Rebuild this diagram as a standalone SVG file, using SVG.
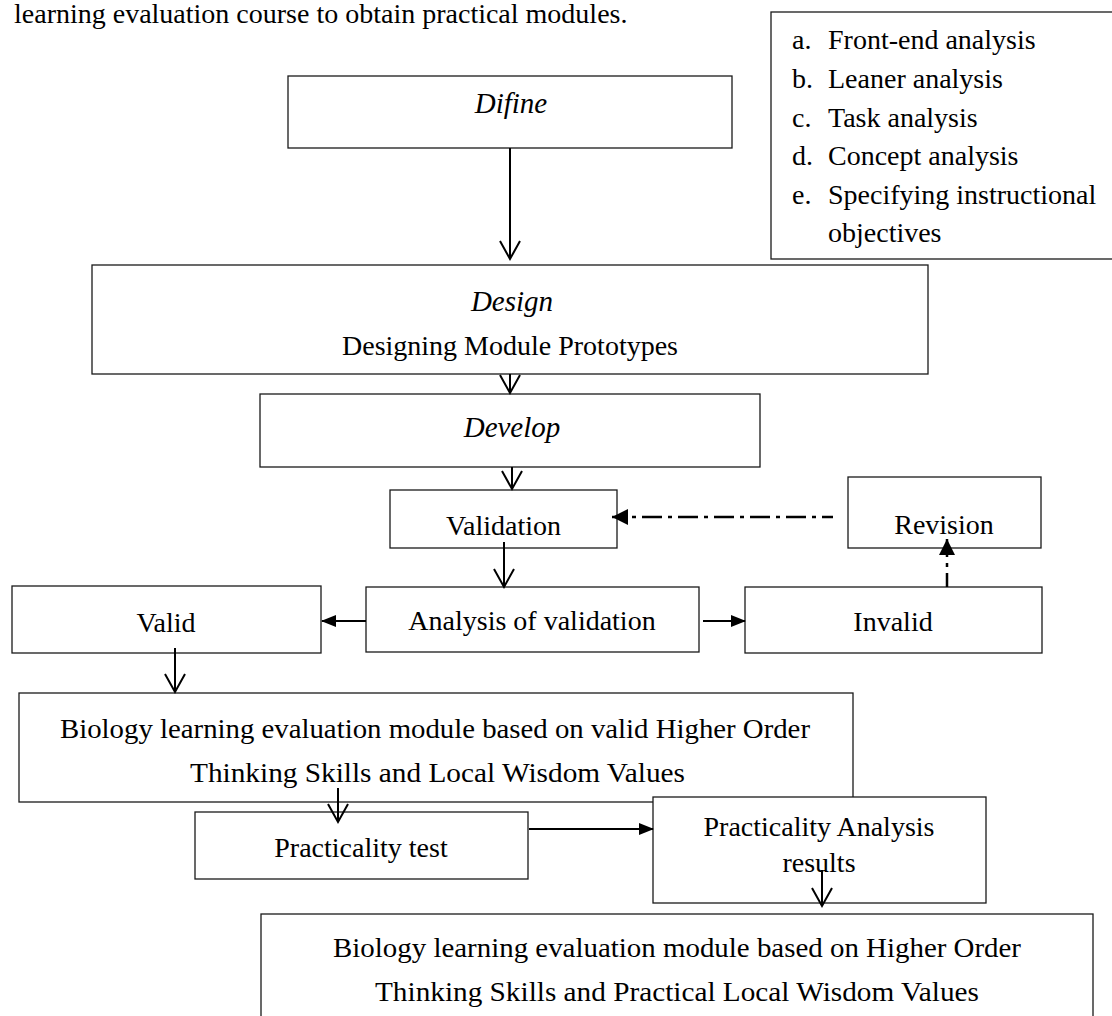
<svg xmlns="http://www.w3.org/2000/svg" width="1112" height="1016" viewBox="0 0 1112 1016">
<style>
.box{fill:#fff;stroke:#1a1a1a;stroke-width:1.3}
.t{font-family:"Liberation Serif","Times New Roman",serif;font-size:28px;fill:#000}
.m{text-anchor:middle}
.i{font-style:italic;font-size:29px}
.c{fill:none;stroke:#000;stroke-width:2}
.dd{stroke-width:2.5;stroke-dasharray:20 6 4 6}
</style>
<defs>
<marker id="open" markerUnits="userSpaceOnUse" viewBox="-2 -2 24 26" refX="18" refY="10" markerWidth="24" markerHeight="26" orient="auto">
<path d="M0,0 L18,10 L0,20" fill="none" stroke="#000" stroke-width="2"/>
</marker>
<marker id="fill" markerUnits="userSpaceOnUse" viewBox="0 0 15 12" refX="14" refY="6" markerWidth="15" markerHeight="12" orient="auto">
<path d="M0,0 L15,6 L0,12 Z" fill="#000"/>
</marker>
<marker id="fillbig" markerUnits="userSpaceOnUse" viewBox="0 0 16 16" refX="16" refY="8" markerWidth="16" markerHeight="16" orient="auto">
<path d="M0,0 L16,8 L0,16 Z" fill="#000"/>
</marker>
</defs>
<rect width="1112" height="1016" fill="#fff"/>
<text class="t" x="14" y="23">learning evaluation course to obtain practical modules.</text>
<g id="list">
<rect class="box" x="771" y="12" width="360" height="247"/>
<text class="t" x="792" y="49">a.</text><text class="t" x="828" y="49">Front-end analysis</text>
<text class="t" x="792" y="88">b.</text><text class="t" x="828" y="88">Leaner analysis</text>
<text class="t" x="792" y="127">c.</text><text class="t" x="828" y="127">Task analysis</text>
<text class="t" x="792" y="165">d.</text><text class="t" x="828" y="165">Concept analysis</text>
<text class="t" x="792" y="204">e.</text><text class="t" x="828" y="204">Specifying instructional</text>
<text class="t" x="828" y="242">objectives</text>
</g>
<g id="define">
<rect class="box" x="288" y="76" width="444" height="72"/>
<text class="t m i" x="511" y="113">Difine</text>
</g>
<g id="design">
<rect class="box" x="92" y="265" width="836" height="109"/>
<text class="t m i" x="512" y="311">Design</text>
<text class="t m" x="510" y="355">Designing Module Prototypes</text>
</g>
<g id="develop">
<rect class="box" x="260" y="394" width="500" height="73"/>
<text class="t m i" x="512" y="437">Develop</text>
</g>
<g id="validation">
<rect class="box" x="390" y="490" width="227" height="58"/>
<text class="t m" x="503.5" y="535">Validation</text>
</g>
<g id="revision">
<rect class="box" x="848" y="477" width="193" height="71"/>
<text class="t m" x="944" y="534">Revision</text>
</g>
<g id="valid">
<rect class="box" x="12" y="586" width="309" height="67"/>
<text class="t m" x="166" y="632">Valid</text>
</g>
<g id="analysis">
<rect class="box" x="366" y="587" width="333" height="65"/>
<text class="t m" x="532" y="630">Analysis of validation</text>
</g>
<g id="invalid">
<rect class="box" x="745" y="587" width="297" height="66"/>
<text class="t m" x="893" y="631">Invalid</text>
</g>
<g id="module-valid">
<rect class="box" x="19" y="693" width="834" height="109"/>
<text class="t m" x="435" y="738" textLength="750" lengthAdjust="spacingAndGlyphs">Biology learning evaluation module based on valid Higher Order</text>
<text class="t m" x="437.5" y="782" textLength="495" lengthAdjust="spacingAndGlyphs">Thinking Skills and Local Wisdom Values</text>
</g>
<g id="practicality-test">
<rect class="box" x="195" y="812" width="333" height="67"/>
<text class="t m" x="361" y="857">Practicality test</text>
</g>
<g id="practicality-analysis">
<rect class="box" x="653" y="797" width="333" height="106"/>
<text class="t m" x="819" y="836">Practicality Analysis</text>
<text class="t m" x="819" y="872">results</text>
</g>
<g id="module-practical">
<rect class="box" x="261" y="914" width="832" height="120"/>
<text class="t m" x="677" y="957" textLength="688" lengthAdjust="spacingAndGlyphs">Biology learning evaluation module based on Higher Order</text>
<text class="t m" x="677" y="1001" textLength="604" lengthAdjust="spacingAndGlyphs">Thinking Skills and Practical Local Wisdom Values</text>
</g>
<g id="connectors">
<line class="c" x1="510" y1="148" x2="510" y2="259" marker-end="url(#open)"/>
<line class="c" x1="510" y1="374" x2="510" y2="393" marker-end="url(#open)"/>
<line class="c" x1="512" y1="467" x2="512" y2="489" marker-end="url(#open)"/>
<line class="c" x1="504" y1="542" x2="504" y2="587" marker-end="url(#open)"/>
<line class="c" x1="175" y1="648" x2="175" y2="692" marker-end="url(#open)"/>
<line class="c" x1="338" y1="788" x2="338" y2="822" marker-end="url(#open)"/>
<line class="c" x1="822" y1="870" x2="822" y2="906" marker-end="url(#open)"/>
<line class="c" x1="366" y1="621" x2="322" y2="621" marker-end="url(#fill)"/>
<line class="c" x1="703" y1="621" x2="745" y2="621" marker-end="url(#fill)"/>
<line class="c" x1="529" y1="829" x2="653" y2="829" marker-end="url(#fill)"/>
<line class="c dd" x1="833" y1="517" x2="612" y2="517" stroke-dashoffset="9" marker-end="url(#fillbig)"/>
<line class="c dd" x1="947" y1="587" x2="947" y2="539" stroke-dashoffset="6" marker-end="url(#fillbig)"/>
</g>
</svg>
